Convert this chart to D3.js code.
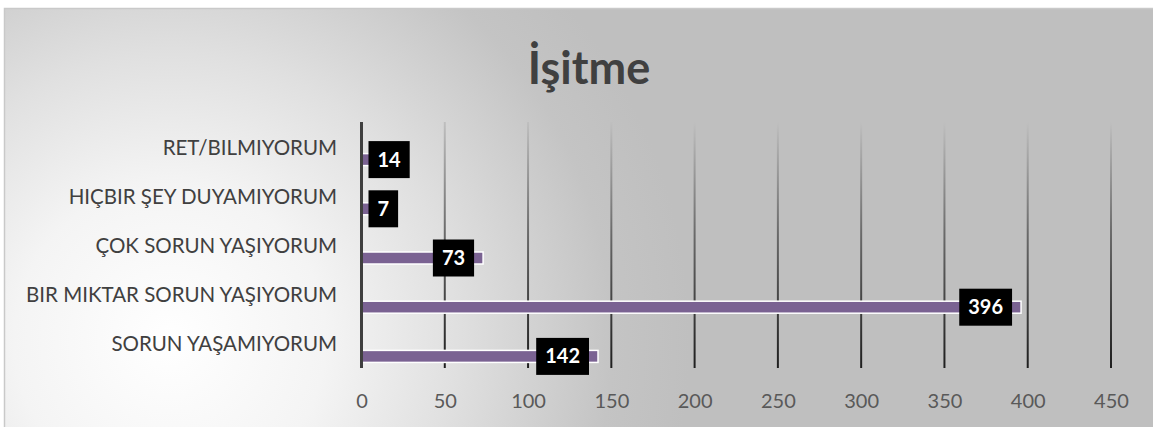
<!DOCTYPE html>
<html>
<head>
<meta charset="utf-8">
<script src="https://cdn.jsdelivr.net/npm/d3@7"></script>
<style>
  html, body { margin: 0; padding: 0; background: #fff; }
  svg { display: block; }
  .ylab text { font: 20.5px Lato, sans-serif; fill: #404040; }
  .xlab text { font: 20px Lato, sans-serif; fill: #595959; }
  .title { font: bold 45px Lato, sans-serif; fill: #404040; }
  .vlab { font: bold 20px Lato, sans-serif; fill: #fff; }
</style>
</head>
<body>
<div id="chart"></div>
<script>
// data
var categories = ["SORUN YAŞAMIYORUM", "BIR MIKTAR SORUN YAŞIYORUM", "ÇOK SORUN YAŞIYORUM", "HIÇBIR ŞEY DUYAMIYORUM", "RET/BILMIYORUM"];
var values = [142, 396, 73, 7, 14];
var xTicks = [0, 50, 100, 150, 200, 250, 300, 350, 400, 450];
var titleText = "İşitme";

var W = 1153, H = 427;
var plot = {left: 361.5, right: 1111, top: 122, bottom: 368};

var svg = d3.select("#chart").append("svg")
  .attr("width", W).attr("height", H);

var defs = svg.append("defs");
var bg = defs.append("radialGradient").attr("id", "bg")
  .attr("gradientUnits", "userSpaceOnUse")
  .attr("cx", 170).attr("cy", 340).attr("r", 520);
bg.append("stop").attr("offset", 0).attr("stop-color", "#ffffff");
bg.append("stop").attr("offset", 0.3).attr("stop-color", "#f4f4f4");
bg.append("stop").attr("offset", 0.55).attr("stop-color", "#e0e0e0");
bg.append("stop").attr("offset", 0.85).attr("stop-color", "#c4c4c4");
bg.append("stop").attr("offset", 1).attr("stop-color", "#bfbfbf");

var gg = defs.append("linearGradient").attr("id", "grid")
  .attr("gradientUnits", "userSpaceOnUse")
  .attr("x1", 0).attr("x2", 0).attr("y1", plot.top).attr("y2", plot.bottom);
gg.append("stop").attr("offset", 0).attr("stop-color", "#bfbfbf");
gg.append("stop").attr("offset", 0.45).attr("stop-color", "#6a6a6a");
gg.append("stop").attr("offset", 1).attr("stop-color", "#1e1e1e");

// chart area
svg.append("rect")
  .attr("x", 4.5).attr("y", 8.5).attr("width", 1170).attr("height", 440)
  .attr("fill", "url(#bg)").attr("stroke", "#c9c9c9").attr("stroke-width", 1.5);

var x = d3.scaleLinear().domain([0, 450]).range([plot.left, plot.right]);
var y = d3.scaleBand().domain(categories.slice().reverse()).range([plot.top, plot.bottom]);

// gridlines
svg.append("g").selectAll("line")
  .data(xTicks.filter(function(d){ return d > 0; }))
  .enter().append("line")
  .attr("x1", function(d){ return x(d); }).attr("x2", function(d){ return x(d); })
  .attr("y1", plot.top).attr("y2", plot.bottom)
  .attr("stroke", "url(#grid)").attr("stroke-width", 2);

// x tick labels
var xAxis = d3.axisBottom(x).tickValues(xTicks).tickSize(0).tickPadding(26);
svg.append("g").attr("class", "xlab")
  .attr("transform", "translate(0," + plot.bottom + ")")
  .call(xAxis)
  .call(function(g){ g.select(".domain").remove(); });

// category labels
var yAxis = d3.axisLeft(y).tickSize(0).tickPadding(0);
svg.append("g").attr("class", "ylab")
  .attr("transform", "translate(337,1.5)")
  .call(yAxis)
  .call(function(g){ g.select(".domain").remove(); });

// bars
var barH = 12, barOff = 13;
svg.append("g").selectAll("rect")
  .data(categories)
  .enter().append("rect")
  .attr("x", x(0))
  .attr("y", function(d){ return y(d) + y.bandwidth() / 2 + barOff - barH / 2; })
  .attr("width", function(d, i){ return x(values[i]) - x(0); })
  .attr("height", barH)
  .attr("fill", "#7a6292")
  .attr("stroke", "#ffffff").attr("stroke-width", 1.5);

// zero axis line
svg.append("line")
  .attr("x1", x(0)).attr("x2", x(0))
  .attr("y1", plot.top).attr("y2", plot.bottom)
  .attr("stroke", "#3f3f3f").attr("stroke-width", 3);

// data labels
var labels = svg.append("g").selectAll("g")
  .data(categories)
  .enter().append("g");
labels.each(function(d, i){
  var g = d3.select(this);
  var cy = y(d) + y.bandwidth() / 2 + barOff;
  var t = g.append("text").attr("class", "vlab").text(values[i])
    .attr("text-anchor", "middle").attr("dy", "0.35em");
  var tw = t.node().getComputedTextLength();
  var bw = tw + 18, bh = 37;
  var left = Math.max(x(values[i]) - 9 - bw, x(0) + 7);
  g.insert("rect", "text")
    .attr("x", left).attr("y", cy - bh / 2)
    .attr("width", bw).attr("height", bh)
    .attr("fill", "#000");
  t.attr("x", left + bw / 2).attr("y", cy);
});

// title
svg.append("text").attr("class", "title")
  .attr("x", 589).attr("y", 84)
  .attr("text-anchor", "middle")
  .text(titleText);
</script>
</body>
</html>
